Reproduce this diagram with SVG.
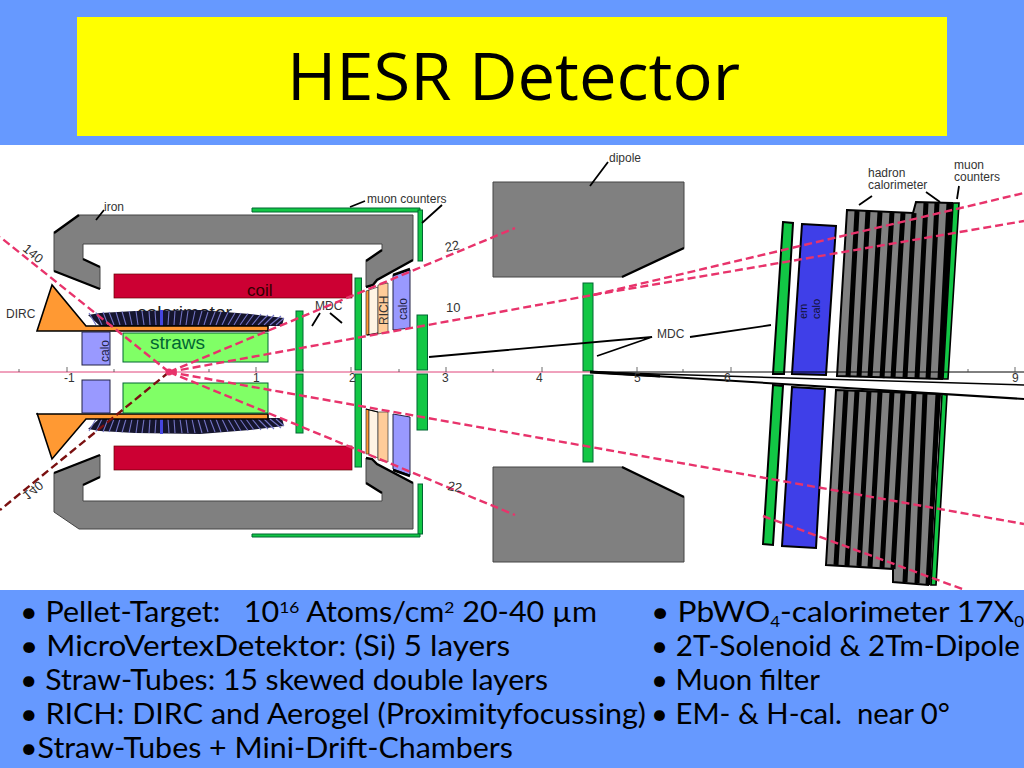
<svg xmlns="http://www.w3.org/2000/svg" xmlns:xlink="http://www.w3.org/1999/xlink" width="1024" height="768" viewBox="0 0 1024 768">
<style>
.iron{fill:#808080;stroke:#444;stroke-width:1}
.thick{fill:none;stroke:#000;stroke-width:2.4}
.coil{fill:#cc0033;stroke:#600;stroke-width:.7}
.green{fill:#12c745;stroke:#063;stroke-width:1}
.greenb{fill:#12c745;stroke:#000;stroke-width:2}
.orange{fill:#ff9933;stroke:#000;stroke-width:1.6}
.straw{fill:#80ff66;stroke:#063;stroke-width:1}
.calo{fill:#9999ff;stroke:#224;stroke-width:1}
.emcalo{fill:#3f3fe8;stroke:#000;stroke-width:2}
.stripe{fill:none;stroke:#000;stroke-width:5}
.lead{fill:none;stroke:#000;stroke-width:1.8}
.ray{fill:none;stroke:#e8336b;stroke-width:2.4;stroke-dasharray:8 4}
.rayd{fill:none;stroke:#7a1010;stroke-width:2.4;stroke-dasharray:8 4}
.lab{font-family:"Liberation Sans",Arial,sans-serif;fill:#333;font-size:12px}
.big{font-family:"Liberation Sans",Arial,sans-serif;fill:#222;font-size:18px}
.blue{font-family:"Liberation Sans",Arial,sans-serif;fill:#224;font-size:13px}
.txt{font-family:Lato,"Open Sans",sans-serif;fill:#000;font-size:28px}
.ttl{font-family:"Open Sans","Noto Sans",sans-serif;fill:#000;font-size:65px}
</style>
<defs>
<g id="barrel">
<polygon points="88,315 100,313 135,311 200,310 250,314 284,318 282,326 100,326" fill="#15152e"/>
<path d="M96 325L89 313M102 325L96 312.5M108 325L103 312M114 325L109 312M120 325L116 312M126 325L122 311.5M132 325L129 311M138 325L136 311M144 325L142 311M150 325L149 311M156 325L155 311M168 325L169 311M174 325L175 311M180 325L182 311M186 325L188 311M192 325L195 311M198 325L202 311M204 325L208 312M210 325L215 312M216 325L221 312M222 325L228 312.5M228 325L235 313M234 325L241 313M240 325L248 313.5M246 325L254 314M252 325L261 314M258 325L268 315M264 325L274 315M270 325L281 316M276 325L284 318" fill="none" stroke="#7474c4" stroke-width="1.1"/>
<rect x="160" y="310" width="3" height="16" fill="#4646e0"/>
</g>
</defs>
<rect width="1024" height="768" fill="#6699ff"/>
<rect id="title-box" x="77" y="17" width="870" height="119" fill="#ffff00"/>
<rect x="0" y="145" width="1024" height="445" fill="#fff"/>
<g id="title"><text class="ttl" x="287" y="100" textLength="453" lengthAdjust="spacingAndGlyphs">HESR Detector</text></g>

<g id="iron-yoke">
<polygon class="iron" points="54,233 79,215 413,215 413,260 377,280 373,285 366,287 366,261 382,250 382,244 83,244 83,259 100,267 100,289 54,271"/>
<polygon class="iron" points="54,512 79,529 413,529 413,483 377,464 372,459 366,458 366,483 382,493 382,501 83,501 83,485 100,477 100,455 54,473"/>
<path class="thick" d="M54 233L79 215M54 271L100 289M83 259L100 267M366 261L382 250M366 287L373 285L377 280L413 260M54 473L100 455M83 485L100 477M366 483L382 493M366 458L372 459L377 464L413 483"/>
</g>
<g id="coil">
<rect class="coil" x="114" y="274" width="238" height="24"/>
<rect class="coil" x="114" y="446" width="238" height="24"/>
<text x="247" y="296" style="font-family:'Liberation Sans',Arial,sans-serif;font-size:17px;fill:#300">coil</text>
</g>
<g id="barrel-calorimeter">
<text class="big" x="137" y="319" textLength="95" lengthAdjust="spacingAndGlyphs">calorimeter</text>
<use href="#barrel"/>
<use href="#barrel" transform="matrix(1 0 0 -1 0 744)"/>
</g>
<g id="dirc">
<polygon class="orange" points="52,285 37,331 268,331 268,326 86,326"/>
<polygon class="orange" points="37,413 52,459 86,419 268,419 268,414 37,414"/>
<text class="lab" x="6" y="318">DIRC</text>
</g>
<g id="straws">
<rect class="straw" x="123" y="333" width="145" height="29"/>
<rect class="straw" x="123" y="383" width="145" height="30"/>
<text class="big" x="150" y="349" style="fill:#063" textLength="55" lengthAdjust="spacingAndGlyphs">straws</text>
</g>
<g id="end-calo">
<rect class="calo" x="82" y="332" width="28" height="33"/>
<rect class="calo" x="82" y="380" width="28" height="33"/>
<text class="blue" transform="translate(109,362) rotate(-90)" style="font-size:12px">calo</text>
</g>
<g id="muon-counters">
<path class="green" d="M252 208H420V212H252Z"/>
<rect class="green" x="418" y="210" width="4.500" height="51"/>
<rect class="green" x="418" y="484" width="4.500" height="50"/>
<path class="green" d="M252 534H420V537H252Z"/>
<text class="lab" x="367" y="203">muon counters</text>
</g>
<g id="mdc">
<rect class="green" x="296" y="311" width="7" height="60"/>
<rect class="green" x="296" y="374" width="7" height="59"/>
<rect class="green" x="355" y="278" width="6.500" height="92"/>
<rect class="green" x="355" y="374" width="6.500" height="93"/>
<rect class="green" x="417" y="315" width="10.500" height="55"/>
<rect class="green" x="417" y="374" width="10.500" height="56"/>
<rect class="green" x="583" y="283" width="10" height="88"/>
<rect class="green" x="583" y="375" width="10" height="87"/>
<text class="lab" x="315" y="310">MDC</text>
<text class="lab" x="657" y="338">MDC</text>
</g>
<g id="rich">
<polygon fill="#ff9933" stroke="#333" stroke-width=".7" points="366,291 369,290 369,335 366,335"/>
<polygon fill="#fff3e3" stroke="#333" stroke-width=".7" points="369,290 378,287 378,334 369,335"/>
<polygon fill="#ffcc99" stroke="#333" stroke-width=".7" points="378,285 388,283 388,332 378,334"/>
<polygon fill="#ff9933" stroke="#333" stroke-width=".7" points="366,409 369,410 369,454 366,454"/>
<polygon fill="#fff3e3" stroke="#333" stroke-width=".7" points="369,410 378,412 378,458 369,455"/>
<polygon fill="#ffcc99" stroke="#333" stroke-width=".7" points="378,412 388,412 388,462 378,460"/>
<path class="lead" style="stroke-width:1.2" d="M367 335L378 333M366 409L378 412"/>
<text class="lab" transform="translate(388,325) rotate(-90)">RICH</text>
</g>
<g id="endcap-calo">
<polygon class="calo" points="393,275 410,270 410,328 393,330"/>
<polygon class="calo" points="393,414 410,417 410,475 393,469"/>
<path class="thick" d="M393 275L410 269M393 470L410 476"/>
<text class="blue" transform="translate(407,320) rotate(-90)" style="font-size:12px">calo</text>
</g>
<g id="dipole">
<polygon class="iron" points="493,182 684,182 684,248 622,277 493,277"/>
<polygon class="iron" points="493,467 622,467 684,497 684,562 493,562"/>
<path class="thick" d="M622 277L684 248M622 467L684 497"/>
<text class="lab" x="609" y="162">dipole</text>
</g>
<g id="forward-mdc">
<polygon class="greenb" points="783,222 793,223 784,374 773,374"/>
<polygon class="greenb" points="773,385 783,386 773,545 763,544"/>
</g>
<g id="em-calo">
<polygon class="emcalo" points="802,224 836,226 826,375 792,374"/>
<polygon class="emcalo" points="792,387 825,389 816,548 782,546"/>
<text class="blue" style="font-size:11px;fill:#113" transform="translate(807,319) rotate(-90)">em</text>
<text class="blue" style="font-size:11px;fill:#113" transform="translate(820,319) rotate(-90)">calo</text>
</g>
<g id="hadron-calorimeter">
<polygon class="iron" style="stroke:#000;stroke-width:2" points="847,210 913,213 916,202 952,203 942,379 837,376"/>
<path class="stripe" d="M857 211L848 377M868 211L859 377M880 212L870 377M892 212L882 378M903 213L893 378M914 213L905 378M926 203L917 378M937 203L928 379M949 203L940 379"/>
<polygon class="iron" style="stroke:#000;stroke-width:2" points="836,390 940,394 928,585 893,582 893,569 826,565"/>
<path class="stripe" d="M846 390L836 565M857 391L847 566M869 391L859 566M880 392L870 567M892 392L882 568M903 392L893 569M914 393L905 582M925 393L917 583M938 394L928 585"/>
<text class="lab" x="868" y="177">hadron</text>
<text class="lab" x="868" y="189">calorimeter</text>
</g>
<g id="forward-muon">
<polygon fill="#12c745" stroke="#000" stroke-width="1.6" points="953,203 959,203 948,379 943,379"/>
<polygon fill="#12c745" stroke="#000" stroke-width="1.6" points="942,394 947,395 936,585 931,585"/>
<text class="lab" x="954" y="169">muon</text>
<text class="lab" x="954" y="181">counters</text>
</g>

<g id="connectors">
<path d="M0 372H590" fill="none" stroke="#e0447a" stroke-width="1"/>
<path d="M590 372H1024" fill="none" stroke="#000" stroke-width="1"/>
<path d="M19 369V372M67 367V372M114 369V372M209 369V372M256 367V372M303 369V372M351 367V372M399 369V372M446 367V372M493 369V372M542 367V372M637 367V372M683 369V372M731 367V372M968 369V372M1015 367V372" fill="none" stroke="#444" stroke-width=".8"/>
<path d="M590 372L1024 399" fill="none" stroke="#000" stroke-width="2"/>
<path d="M590 372L1024 385" fill="none" stroke="#000" stroke-width="1.500"/>
<path d="M590 372L660 376" fill="none" stroke="#000" stroke-width="3"/>
<path class="lead" d="M96 220L104 210M350 207L365 201M422 223L442 205M312 326L320 313M342 323L330 313M590 186L608 162M429 357L652 337L597 356M690 337L771 325M859 205L872 196M926 192L940 202M957 199L959 186"/>
<path class="ray" d="M169 372L0 237"/>
<path class="rayd" d="M169 372L0 510"/>
<path class="ray" d="M169 372L515 228"/>
<path class="ray" d="M169 372L515 515"/>
<path class="ray" d="M169 372L593 295L1024 193"/>
<path class="ray" d="M593 295L1024 221"/>
<path class="ray" d="M169 372L1024 524"/>
<path class="ray" d="M763 516L965 590"/>
<circle cx="169" cy="372" r="3.500" fill="#e8336b"/>
</g>

<g id="scale" class="lab">
<text x="64" y="382">-1</text><text x="253" y="382">1</text><text x="349" y="382">2</text><text x="442" y="382">3</text><text x="536" y="382">4</text><text x="634" y="382">5</text><text x="724" y="382">6</text><text x="1012" y="382">9</text>
<text style="font-size:13px" transform="translate(22,250) rotate(40)">140</text>
<text style="font-size:13px" transform="translate(0,744) scale(1,-1) translate(22,250) rotate(40)">140</text>
<text style="font-size:13px" transform="translate(446,252) rotate(-12)">22</text>
<text style="font-size:13px" x="446" y="312">10</text>
<text style="font-size:13px" transform="translate(447,490) rotate(10)">22</text>
</g>
<text class="lab" x="104" y="211">iron</text>

<g id="bullets-left" class="txt">
<text x="20" y="622" textLength="577" lengthAdjust="spacingAndGlyphs">• Pellet-Target:&#160;&#160; 10<tspan font-size="16" dy="-9">16</tspan><tspan dy="9"> Atoms/cm</tspan><tspan font-size="16" dy="-9">2</tspan><tspan dy="9"> 20-40 µm</tspan></text>
<text x="20" y="656" textLength="490" lengthAdjust="spacingAndGlyphs">• MicroVertexDetektor: (Si) 5 layers</text>
<text x="20" y="690" textLength="528" lengthAdjust="spacingAndGlyphs">• Straw-Tubes: 15 skewed double layers</text>
<text x="20" y="724" textLength="626" lengthAdjust="spacingAndGlyphs">• RICH: DIRC and Aerogel (Proximityfocussing)</text>
<text x="20" y="758" textLength="493" lengthAdjust="spacingAndGlyphs">•Straw-Tubes + Mini-Drift-Chambers</text>
</g>
<g id="bullets-right" class="txt">
<text x="651" y="622" textLength="373" lengthAdjust="spacingAndGlyphs">• PbWO<tspan font-size="15" dy="5">4</tspan><tspan dy="-5">-calorimeter 17X</tspan><tspan font-size="15" dy="5">0</tspan></text>
<text x="651" y="656" textLength="369" lengthAdjust="spacingAndGlyphs">• 2T-Solenoid &amp; 2Tm-Dipole</text>
<text x="651" y="690" textLength="169" lengthAdjust="spacingAndGlyphs">• Muon filter</text>
<text x="651" y="724" textLength="299" lengthAdjust="spacingAndGlyphs">• EM- &amp; H-cal.&#160; near 0°</text>
</g>
</svg>
